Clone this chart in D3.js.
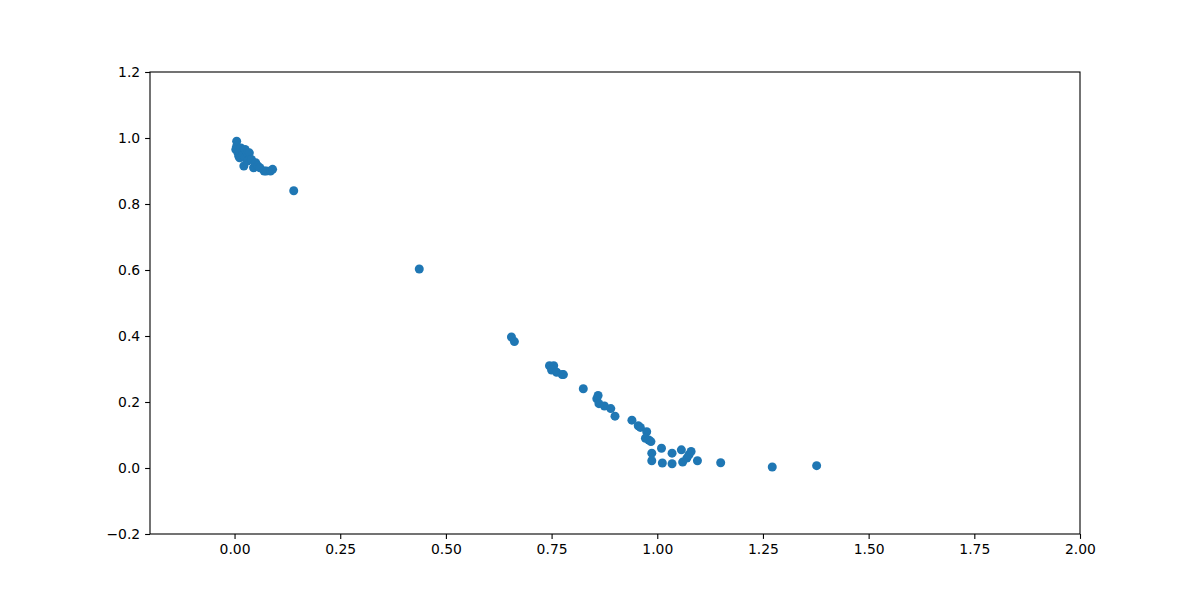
<!DOCTYPE html>
<html><head><meta charset="utf-8">
<script src="https://cdn.jsdelivr.net/npm/d3@7"></script>
<style>body{margin:0;background:#fff}svg{display:block}</style>
</head><body>
<svg id="c" width="1200" height="600"></svg>
<script>
const xVals = [0.005,0.005,0.003,0.008,0.010,0.012,0.015,0.020,0.020,0.025,0.025,0.030,0.022,0.030,0.035,0.040,0.045,0.050,0.055,0.060,0.070,0.075,0.085,0.090,0.140,
  0.437,0.655,0.662,0.745,0.755,0.750,0.762,0.775,0.778,0.825,0.857,0.860,0.862,0.875,0.890,0.900,0.940,0.955,0.960,0.975,0.972,0.980,0.985,0.987,0.987,1.010,1.012,1.035,1.035,1.057,1.060,1.070,1.075,1.080,1.095,1.150,1.272,1.377];
const yVals = [0.990,0.975,0.965,0.955,0.945,0.940,0.970,0.960,0.950,0.965,0.940,0.955,0.915,0.930,0.955,0.935,0.910,0.925,0.915,0.910,0.900,0.900,0.900,0.905,0.840,
  0.603,0.397,0.383,0.310,0.310,0.297,0.290,0.283,0.283,0.240,0.210,0.220,0.195,0.188,0.180,0.157,0.145,0.128,0.123,0.110,0.090,0.085,0.080,0.045,0.022,0.060,0.015,0.045,0.013,0.055,0.018,0.030,0.040,0.050,0.022,0.016,0.003,0.007];
const xTicks = [0,0.25,0.5,0.75,1.0,1.25,1.5,1.75,2.0];
const yTicks = [-0.2,0,0.2,0.4,0.6,0.8,1.0,1.2];

const L=150,R=1080,T=72,B=534;
const svg=d3.select("#c");
const x=d3.scaleLinear().domain([-0.2,2.0]).range([L,R]);
const y=d3.scaleLinear().domain([-0.2,1.2]).range([B,T]);

svg.append("g").selectAll("circle").data(xVals.map((v,i)=>[v,yVals[i]])).join("circle")
  .attr("cx",d=>x(d[0])).attr("cy",d=>y(d[1])).attr("r",4.5).attr("fill","#1f77b4");

const font="DejaVu Sans";
const xa=svg.append("g").attr("transform",`translate(0,${B})`)
  .call(d3.axisBottom(x).tickValues(xTicks).tickFormat(d3.format(".2f")).tickSize(4.9).tickPadding(4.9));
const ya=svg.append("g").attr("transform",`translate(${L},0)`)
  .call(d3.axisLeft(y).tickValues(yTicks).tickFormat(d=>d3.format(".1f")(d).replace("-","\u2212")).tickSize(4.9).tickPadding(4.9));
[xa,ya].forEach(g=>{g.select(".domain").remove();g.selectAll("line").attr("stroke","#000").attr("stroke-width",1.1);
  g.selectAll("text").attr("font-family",font).attr("font-size",13.9).attr("fill","#000");});
svg.append("rect").attr("x",L).attr("y",T).attr("width",R-L).attr("height",B-T)
  .attr("fill","none").attr("stroke","#000").attr("stroke-width",1.1);
</script>
</body></html>
